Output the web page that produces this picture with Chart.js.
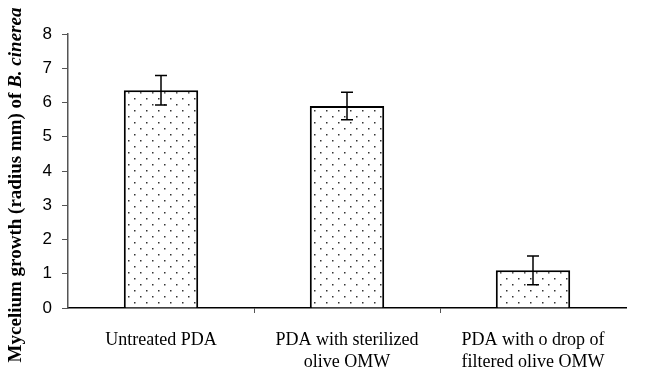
<!DOCTYPE html>
<html>
<head>
<meta charset="utf-8">
<script src="https://cdn.jsdelivr.net/npm/chart.js@4.4.1/dist/chart.umd.min.js"></script>
<style>
  html, body { margin: 0; padding: 0; background: #fff; }
  #wrap { width: 654px; height: 369px; position: relative; }
</style>
</head>
<body>
<div id="wrap"><canvas id="chart"></canvas></div>
<script>
const categories = [
    ["Untreated PDA"],
    ["PDA with sterilized", "olive OMW"],
    ["PDA with o drop of", "filtered olive OMW"]
];
const growth = [6.36, 5.9, 1.1];
const errors = [0.43, 0.4, 0.42];
const yTicks = [0, 1, 2, 3, 4, 5, 6, 7, 8];

// dotted fill like the original
function dotPattern() {
    const c = document.createElement("canvas");
    c.width = 12;
    c.height = 12;
    const g = c.getContext("2d");
    g.fillStyle = "#fff";
    g.fillRect(0, 0, 12, 12);
    g.fillStyle = "#333";
    g.fillRect(2, 2, 1.5, 1.5);
    g.fillRect(8, 8, 1.5, 1.5);
    return g.createPattern(c, "repeat");
}

// error bars drawn through the scales
const errorBars = {
    id: "errorBars",
    afterDatasetsDraw(chart) {
        const ctx = chart.ctx;
        const y = chart.scales.y;
        const meta = chart.getDatasetMeta(0);
        ctx.save();
        ctx.strokeStyle = "#000";
        ctx.lineWidth = 1.5;
        meta.data.forEach((bar, i) => {
            const top = y.getPixelForValue(growth[i] + errors[i]);
            const bot = y.getPixelForValue(growth[i] - errors[i]);
            ctx.beginPath();
            ctx.moveTo(bar.x, top);
            ctx.lineTo(bar.x, bot);
            ctx.moveTo(bar.x - 6, top);
            ctx.lineTo(bar.x + 6, top);
            ctx.moveTo(bar.x - 6, bot);
            ctx.lineTo(bar.x + 6, bot);
            ctx.stroke();
        });
        ctx.restore();
    }
};

// y title with italic species name
const yTitle = {
    id: "yTitle",
    afterDraw(chart) {
        const ctx = chart.ctx;
        const parts = [
            { text: "Mycelium growth (radius mm) of ", font: "bold 19px 'Liberation Serif'" },
            { text: "B. cinerea", font: "italic bold 19px 'Liberation Serif'" }
        ];
        ctx.save();
        let total = 0;
        parts.forEach((p) => { ctx.font = p.font; total += ctx.measureText(p.text).width; });
        ctx.translate(16, 185);
        ctx.rotate(-Math.PI / 2);
        ctx.fillStyle = "#000";
        ctx.textBaseline = "middle";
        let x = -total / 2;
        parts.forEach((p) => {
            ctx.font = p.font;
            ctx.fillText(p.text, x, 0);
            x += ctx.measureText(p.text).width;
        });
        ctx.restore();
    }
};

new Chart(document.getElementById("chart"), {
    type: "bar",
    data: {
        labels: categories,
        datasets: [{
            data: growth,
            backgroundColor: dotPattern(),
            borderColor: "#000",
            borderWidth: 2,
            barPercentage: 0.4,
            categoryPercentage: 1
        }]
    },
    options: {
        responsive: true,
        maintainAspectRatio: false,
        animation: false,
        layout: { padding: { top: 34, right: 28, left: 0, bottom: 0 } },
        plugins: { legend: { display: false }, tooltip: { enabled: false } },
        scales: {
            x: {
                afterFit: (s) => { s.height = 61; },
                grid: {
                    offset: true,
                    drawOnChartArea: false,
                    tickLength: 5,
                    lineWidth: 1,
                    color: (c) => (c.type === "tick" && c.index > 0 ? "#555" : "rgba(0,0,0,0)")
                },
                border: { color: "#000", width: 1.5 },
                ticks: {
                    color: "#000",
                    padding: 16,
                    maxRotation: 0,
                    font: { family: "'Liberation Serif'", size: 18, lineHeight: 1.22 }
                }
            },
            y: {
                min: 0,
                max: 8,
                afterFit: (s) => { s.width = 68; },
                afterBuildTicks: (s) => { s.ticks = yTicks.map((v) => ({ value: v })); },
                grid: { drawOnChartArea: false, tickLength: 6, color: "#555" },
                border: { color: "#555", width: 1.5 },
                ticks: {
                    color: "#000",
                    padding: 10,
                    font: { family: "'Liberation Sans'", size: 17 }
                }
            }
        }
    },
    plugins: [errorBars, yTitle]
});
</script>
</body>
</html>
